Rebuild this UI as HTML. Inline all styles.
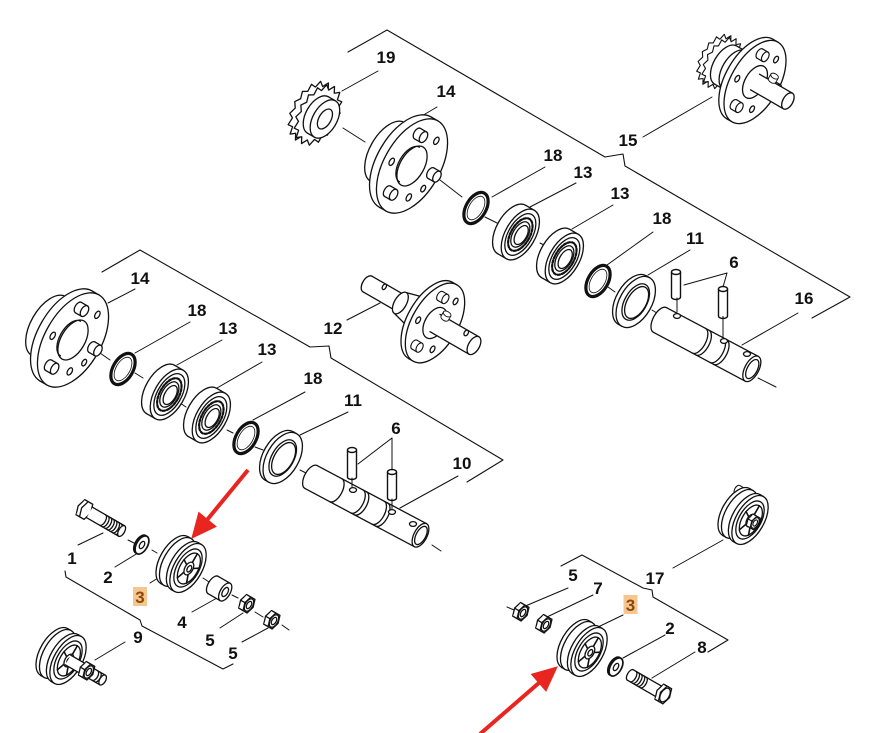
<!DOCTYPE html>
<html><head><meta charset="utf-8">
<style>
html,body{margin:0;padding:0;background:#fff;}
svg{display:block;}
text{font-family:"Liberation Sans",Arial,sans-serif;font-weight:bold;font-size:17px;fill:#111;text-anchor:middle;}
</style></head><body>
<svg width="873" height="733" viewBox="0 0 873 733" xmlns="http://www.w3.org/2000/svg">
<defs>
<polygon id="star" points="19.8,0 16.18,5.37 18.29,12.63 13.72,15.28 14,23.33 9.17,22.87 7.58,30.49 3.22,26.97 0,33 -3.22,26.97 -7.58,30.49 -9.17,22.87 -14,23.33 -13.72,15.28 -18.29,12.63 -16.18,5.37 -19.8,0 -16.18,-5.37 -18.29,-12.63 -13.72,-15.28 -14,-23.33 -9.17,-22.87 -7.58,-30.49 -3.22,-26.97 0,-33 3.22,-26.97 7.58,-30.49 9.17,-22.87 14,-23.33 13.72,-15.28 18.29,-12.63 16.18,-5.37"/>
<g id="pin">
 <ellipse rx="3.5" ry="6"/>
 <rect x="0" y="-6" width="7" height="12" stroke="none"/>
 <path d="M0,-6H7M0,6H7" fill="none"/>
 <ellipse cx="7" rx="3.5" ry="6"/>
</g>
<g id="ring">
 <ellipse rx="10" ry="17" fill="none" stroke-width="3.2"/>
 <ellipse rx="7" ry="13" fill="none" stroke-width="0.8"/>
</g>
<g id="brg">
 <ellipse cx="-5" rx="15" ry="28"/>
 <rect x="-5" y="-28" width="10" height="56" stroke="none"/>
 <path d="M-5,-28H5M-5,28H5" fill="none"/>
 <ellipse cx="5" rx="15" ry="28"/>
 <ellipse cx="5" rx="12" ry="23"/>
 <ellipse cx="5" rx="9.5" ry="18" fill="none" stroke-width="2.2" stroke-dasharray="2.5 1.8"/>
 <ellipse cx="5" rx="7.5" ry="14"/>
 <ellipse cx="6" rx="5.5" ry="10.5"/>
</g>
<g id="w11">
 <ellipse cx="-2" rx="16" ry="28"/>
 <rect x="-2" y="-28" width="4" height="56" stroke="none"/>
 <path d="M-2,-28H2M-2,28H2" fill="none"/>
 <ellipse cx="2" rx="16" ry="28"/>
 <ellipse cx="2" rx="11" ry="20"/>
 <ellipse cx="3" rx="9.5" ry="17.5" fill="none"/>
</g>
<g id="hub">
 <ellipse cx="-28" rx="18" ry="34"/>
 <rect x="-28" y="-34" width="21" height="68" stroke="none"/>
 <path d="M-28,-34H-7M-28,34H-7" fill="none"/>
 <ellipse cx="-8" rx="28" ry="52"/>
 <rect x="-8" y="-52" width="8" height="104" stroke="none"/>
 <path d="M-8,-52H0M-8,52H0" fill="none"/>
 <ellipse cx="0" rx="28" ry="52"/>
 <ellipse cx="0" rx="12" ry="22"/>
 <path d="M-3,-20 A10,19 0 0 0 -3,20" fill="none"/>
 <ellipse cx="8.5" cy="-34" rx="2.2" ry="4"/>
 <ellipse cx="12.9" cy="28.8" rx="2.2" ry="4"/>
 <ellipse cx="-19.7" cy="6.5" rx="2.2" ry="4"/>
 <ellipse cx="21" cy="14" rx="2" ry="3.6"/>
 <use href="#pin" x="-11.5" y="-30.8"/>
 <use href="#pin" x="19.9" y="-3.3"/>
 <use href="#pin" x="-8.5" y="34.1"/>
</g>
<g id="pul">
 <ellipse cx="-16" rx="14" ry="27"/>
 <rect x="-16" y="-27" width="4" height="54" stroke="none"/>
 <path d="M-16,-27H-12M-16,27H-12" fill="none"/>
 <ellipse cx="-12" rx="14" ry="27"/>
 <rect x="-12" y="-21" width="8" height="42" stroke="none"/>
 <path d="M-12,-21H-4M-12,21H-4" fill="none"/>
 <ellipse cx="-4" rx="14" ry="27"/>
 <rect x="-4" y="-27" width="4" height="54" stroke="none"/>
 <path d="M-4,-27H0M-4,27H0" fill="none"/>
 <ellipse cx="0" rx="14" ry="27"/>
 <ellipse cx="0" rx="11" ry="21"/>
 <ellipse cx="1" rx="9" ry="17" fill="none"/>
 <path d="M1,-7L1,-17M4.8,-2.2L9.6,-5.3M3.4,5.7L6.3,13.8M-1.4,5.7L-4.3,13.8M-2.8,-2.2L-7.6,-5.3" fill="none" stroke-width="1.6"/>
 <ellipse cx="1" rx="4" ry="7"/>
 <ellipse cx="1.5" rx="2" ry="3.5"/>
</g>
<g id="nut">
 <polygon points="-0.3,0 -2.65,7.8 -7.35,7.8 -9.7,0 -7.35,-7.8 -2.65,-7.8"/>
 <rect x="-7.35" y="-7.8" width="9.7" height="15.6" stroke="none"/>
 <path d="M-7.35,-7.8H2.35M-7.35,7.8H2.35M-9.7,0L-4.7,0" fill="none"/>
 <polygon points="4.7,0 2.35,7.8 -2.35,7.8 -4.7,0 -2.35,-7.8 2.35,-7.8"/>
 <ellipse rx="3.8" ry="6.8" fill="none"/>
 <ellipse rx="2.2" ry="4"/>
</g>
<g id="w2">
 <ellipse cx="-1.5" rx="5.5" ry="10" stroke-width="1.7"/>
 <ellipse rx="5.5" ry="10" stroke-width="1.7"/>
 <ellipse rx="2.2" ry="4"/>
</g>
<g id="sp">
 <ellipse cx="-8" rx="5" ry="10"/>
 <rect x="-8" y="-10" width="14" height="20" stroke="none"/>
 <path d="M-8,-10H6M-8,10H6" fill="none"/>
 <ellipse cx="6" rx="5" ry="10"/>
 <ellipse cx="6" rx="2.6" ry="5"/>
</g>
<g id="hexh">
 <polygon points="1.2,0 -1.4,8.66 -6.6,8.66 -9.2,0 -6.6,-8.66 -1.4,-8.66"/>
 <rect x="-6.6" y="-8.66" width="9.2" height="17.3" stroke="none"/>
 <path d="M-6.6,-8.66H2.6M-6.6,8.66H2.6" fill="none"/>
 <polygon points="5.2,0 2.6,8.66 -2.6,8.66 -5.2,0 -2.6,-8.66 2.6,-8.66"/>
</g>
</defs>

<g fill="#fff" stroke="#111" stroke-width="1.3" stroke-linejoin="round" stroke-linecap="round">

<!-- brackets -->
<g fill="none" stroke-width="1.1">
<polyline points="348,52 387,30 605,157 623,154 625,166 850,297 812,318"/>
<polyline points="102,272 140,250 310,347 329,346 331,358 503,460 467,482"/>
<polyline points="65,571 66,577 140,620 142,626 223,669 233,664"/>
<polyline points="561,566 582,555 643,588 652,590 653,597 728,640 708,652"/>
</g>

<!-- leader & axis lines -->
<g fill="none" stroke-width="1">
<path d="M378,71L342,91M437,107L415,120M545,167L492,197M576,183L530,207M613,205L572,229M653,232L607,265M690,250L648,275M727,273L684,285M727,273L723,287M798,313L742,345M643,137L712,97"/>
<path d="M343,128L365,142M440,180L462,197M485,217L497,223M540,243L546,246M608,287L615,292M652,310L660,315"/>
<path d="M135,289L108,303M190,322L135,353M222,340L177,365M262,362L217,388M347,320L380,303M305,392L253,420M348,412L300,435M392,438L358,464M392,438L392,473M458,476L400,508"/>
<path d="M100,353L110,360M135,373L143,378M180,403L186,407M227,430L233,433M255,447L263,450M300,470L308,474"/>
<path d="M78,545L103,533M115,567L138,553M150,583L158,578M192,612L217,598M220,628L243,613M242,642L268,628M125,642L95,660"/>
<path d="M128,540L134,543M152,550L157,553M203,578L209,582M232,595L238,598M255,612L263,617M282,625L289,630"/>
<path d="M673,568L723,540M568,588L523,607M593,595L547,617M623,615L596,628M665,635L623,658M695,652L652,678M507,607L514,610"/>
<path d="M758,378L776,387M432,545L441,551"/>
</g>

<!-- TOP GROUP -->
<g transform="translate(318,115) rotate(30)">
 <use href="#star" x="-7"/>
 <use href="#star"/>
 <ellipse cx="0" rx="12" ry="21"/>
 <rect x="0" y="-21" width="8" height="42" stroke="none"/>
 <path d="M0,-21H8M0,21H8" fill="none"/>
 <ellipse cx="8" rx="12" ry="21"/>
 <ellipse cx="8" rx="6" ry="11"/>
</g>
<use href="#hub" transform="translate(412,166) rotate(30)"/>
<use href="#ring" transform="translate(476,208) rotate(30)"/>
<use href="#brg" transform="translate(516,232) rotate(30)"/>
<use href="#brg" transform="translate(560,256) rotate(30)"/>
<use href="#ring" transform="translate(598,281) rotate(30)"/>
<use href="#w11" transform="translate(634,301) rotate(30)"/>
<g transform="translate(660,320) rotate(28)">
 <ellipse cx="0" rx="7" ry="14"/>
 <rect x="0" y="-14" width="104" height="28" stroke="none"/>
 <path d="M0,-14H104M0,14H104" fill="none"/>
 <path d="M44,-14A7,14 0 0 1 44,14M48,-14A7,14 0 0 1 48,14M64,-14A7,14 0 0 1 64,14M68,-14A7,14 0 0 1 68,14" fill="none"/>
 <ellipse cx="104" rx="7" ry="14"/>
 <ellipse cx="104.5" rx="5" ry="10.5" fill="none"/>
</g>
<ellipse cx="677" cy="316" rx="3.5" ry="2.4"/>
<ellipse cx="724" cy="341" rx="3.5" ry="2.4"/>
<ellipse cx="747" cy="354" rx="3.5" ry="2.4"/>
<path d="M677,298V312M723,316V337" fill="none" stroke-width="1"/>
<g>
 <rect x="671.5" y="272" width="9" height="25" stroke="none"/>
 <path d="M671.5,272V297A4.5,2.5 0 0 0 680.5,297V272" fill="none" stroke-width="1.4"/>
 <ellipse cx="676" cy="272" rx="4.5" ry="2.5" stroke-width="1.4"/>
 <rect x="718.5" y="289" width="9" height="27" stroke="none"/>
 <path d="M718.5,289V316A4.5,2.5 0 0 0 727.5,316V289" fill="none" stroke-width="1.4"/>
 <ellipse cx="723" cy="289" rx="4.5" ry="2.5" stroke-width="1.4"/>
</g>
<!-- part 15 -->
<g transform="translate(755,82) rotate(30)">
 <use href="#star" transform="translate(-44,0) scale(0.85)"/>
 <use href="#star" transform="translate(-38,0) scale(0.85)"/>
 <ellipse cx="-34" rx="12" ry="22"/>
 <rect x="-34" y="-22" width="28" height="44" stroke="none"/>
 <path d="M-34,-22H-6M-34,22H-6M-24,-22A12,22 0 0 0 -24,22" fill="none"/>
 <ellipse cx="-6" rx="24" ry="46"/>
 <rect x="-6" y="-46" width="6" height="92" stroke="none"/>
 <path d="M-6,-46H0M-6,46H0" fill="none"/>
 <ellipse cx="0" rx="24" ry="46"/>
 <ellipse cx="7" cy="-30" rx="2" ry="3.6"/>
 <ellipse cx="11" cy="25" rx="2" ry="3.6"/>
 <ellipse cx="-17" cy="6" rx="2" ry="3.6"/>
 <use href="#pin" transform="translate(-10,-27) scale(0.9)"/>
 <use href="#pin" transform="translate(17,-5) scale(0.9)"/>
 <use href="#pin" transform="translate(-7,30) scale(0.9)"/>
 <ellipse cx="0" rx="10" ry="18"/>
 <rect x="0" y="-9" width="38" height="18" stroke="none"/>
 <path d="M0,-9H38M0,9H38" fill="none"/>
 <ellipse cx="38" rx="5" ry="9"/>
 <use href="#pin" transform="translate(14,-10) rotate(-90) scale(0.7)"/>
</g>

<!-- MIDDLE GROUP -->
<use href="#hub" transform="translate(73,340) rotate(30)"/>
<use href="#ring" transform="translate(123,369) rotate(30)"/>
<use href="#brg" transform="translate(165,392) rotate(30)"/>
<use href="#brg" transform="translate(207,415) rotate(30)"/>
<use href="#ring" transform="translate(246,438) rotate(30)"/>
<use href="#w11" transform="translate(281,457) rotate(30)"/>
<g transform="translate(311,477) rotate(28)">
 <ellipse cx="0" rx="6.5" ry="13"/>
 <rect x="0" y="-13" width="124" height="26" stroke="none"/>
 <path d="M0,-13H124M0,13H124" fill="none"/>
 <path d="M28,-13A6.5,13 0 0 1 28,13M52,-13A6.5,13 0 0 1 52,13M56,-13A6.5,13 0 0 1 56,13M76,-13A6.5,13 0 0 1 76,13M80,-13A6.5,13 0 0 1 80,13" fill="none"/>
 <ellipse cx="124" rx="6.5" ry="13"/>
 <ellipse cx="124.5" rx="4.8" ry="10" fill="none"/>
</g>
<ellipse cx="353" cy="490" rx="3.5" ry="2.4"/>
<ellipse cx="392" cy="512" rx="3.5" ry="2.4"/>
<ellipse cx="413" cy="524" rx="3.5" ry="2.4"/>
<path d="M352,478V487M392,499V509" fill="none" stroke-width="1"/>
<g>
 <rect x="347.5" y="450" width="9" height="27" stroke="none"/>
 <path d="M347.5,450V477A4.5,2.5 0 0 0 356.5,477V450" fill="none" stroke-width="1.4"/>
 <ellipse cx="352" cy="450" rx="4.5" ry="2.5" stroke-width="1.4"/>
 <rect x="387.5" y="472" width="9" height="26" stroke="none"/>
 <path d="M387.5,472V498A4.5,2.5 0 0 0 396.5,498V472" fill="none" stroke-width="1.4"/>
 <ellipse cx="392" cy="472" rx="4.5" ry="2.5" stroke-width="1.4"/>
</g>
<!-- part 12 -->
<g transform="translate(435,323) rotate(30)">
 <ellipse cx="-78" rx="5" ry="9"/>
 <rect x="-78" y="-9" width="40" height="18" stroke="none"/>
 <path d="M-78,-9H-38M-78,9H-38" fill="none"/>
 <ellipse cx="-62" cy="-6" rx="1.8" ry="3"/>
 <polygon points="-40,-12 -10,-20 -10,20 -40,12"/>
 <ellipse cx="-40" rx="6" ry="12"/>
 <ellipse cx="-5" rx="23" ry="44"/>
 <rect x="-5" y="-44" width="5" height="88" stroke="none"/>
 <path d="M-5,-44H0M-5,44H0" fill="none"/>
 <ellipse cx="0" rx="23" ry="44"/>
 <ellipse cx="7" cy="-29" rx="2" ry="3.6"/>
 <ellipse cx="11" cy="24" rx="2" ry="3.6"/>
 <ellipse cx="-16" cy="6" rx="2" ry="3.6"/>
 <use href="#pin" transform="translate(-9,-26) scale(0.85)"/>
 <use href="#pin" transform="translate(-7,29) scale(0.85)"/>
 <ellipse cx="0" rx="10" ry="17"/>
 <rect x="0" y="-10" width="45" height="20" stroke="none"/>
 <path d="M0,-10H45M0,10H45" fill="none"/>
 <ellipse cx="45" rx="5.5" ry="10"/>
 <ellipse cx="32" cy="-7" rx="2" ry="3"/>
 <use href="#pin" transform="translate(6,-9) rotate(-90) scale(0.7)"/>
</g>

<!-- BOTTOM LEFT GROUP -->
<g transform="translate(87,511) rotate(30)">
 <use href="#hexh" x="-1"/>
 <rect x="3" y="-6" width="37" height="12" stroke="none"/>
 <path d="M3,-6H40M3,6H40" fill="none"/>
 <path d="M18,-6A3,6 0 0 1 18,6M21,-6A3,6 0 0 1 21,6M24,-6A3,6 0 0 1 24,6M27,-6A3,6 0 0 1 27,6M30,-6A3,6 0 0 1 30,6M33,-6A3,6 0 0 1 33,6M36,-6A3,6 0 0 1 36,6" fill="none"/>
 <ellipse cx="40" rx="3" ry="6"/>
</g>
<use href="#w2" transform="translate(142,545) rotate(30)"/>
<use href="#pul" transform="translate(188,568) rotate(30)"/>
<use href="#sp" transform="translate(220,589) rotate(30)"/>
<use href="#nut" transform="translate(249,605) rotate(30)"/>
<use href="#nut" transform="translate(274,621) rotate(30)"/>
<!-- part 9 -->
<g transform="translate(68,660) rotate(30)">
 <use href="#pul"/>
 <rect x="0" y="-5.5" width="40" height="11" stroke="none"/>
 <path d="M0,-5.5H40M0,5.5H40" fill="none"/>
 <ellipse cx="40" rx="3" ry="5.5"/>
 <use href="#nut" transform="translate(24,0)"/>
 <path d="M31,-5.5A3,5.5 0 0 1 31,5.5M34,-5.5A3,5.5 0 0 1 34,5.5" fill="none"/>
</g>

<!-- BOTTOM RIGHT GROUP -->
<g transform="translate(750,520) rotate(30)">
 <use href="#pin" transform="translate(-26,-20) scale(0.8)"/>
 <use href="#pul"/>
 <use href="#nut" transform="translate(6,0) scale(0.85)"/>
</g>
<use href="#nut" transform="translate(523,613) rotate(30)"/>
<use href="#nut" transform="translate(546,625) rotate(30)"/>
<use href="#pul" transform="translate(589,652) rotate(30)"/>
<use href="#w2" transform="translate(616,667) rotate(30)"/>
<g transform="translate(665,695) rotate(30)">
 <ellipse cx="-40" rx="3" ry="6"/>
 <rect x="-40" y="-6" width="36" height="12" stroke="none"/>
 <path d="M-40,-6H-4M-40,6H-4" fill="none"/>
 <path d="M-37,-6A3,6 0 0 1 -37,6M-34,-6A3,6 0 0 1 -34,6M-31,-6A3,6 0 0 1 -31,6M-28,-6A3,6 0 0 1 -28,6M-25,-6A3,6 0 0 1 -25,6" fill="none"/>
 <use href="#hexh" x="0"/>
 <ellipse rx="4.3" ry="7.5" fill="none"/>
</g>

<!-- red arrows -->
<g stroke="#e8251f" fill="#e8251f" stroke-width="4" stroke-linecap="butt">
 <line x1="248" y1="470" x2="207" y2="520"/>
 <polygon points="192,538 216,526.5 198.8,512.5" stroke-width="1" stroke-linejoin="miter"/>
 <line x1="480" y1="734" x2="540" y2="682"/>
 <polygon points="557,667 546,691 531.5,674.3" stroke-width="1" stroke-linejoin="miter"/>
</g>
</g>

<!-- label highlight boxes -->
<rect x="133" y="587" width="14" height="19" fill="#f7c690"/>
<rect x="623.5" y="595" width="14" height="19" fill="#f7c690"/>

<!-- labels -->
<g>
<text x="386" y="63">19</text>
<text x="446" y="97">14</text>
<text x="553" y="161">18</text>
<text x="583" y="178">13</text>
<text x="620" y="199">13</text>
<text x="662" y="224">18</text>
<text x="695" y="244">11</text>
<text x="734" y="268">6</text>
<text x="804" y="304">16</text>
<text x="628" y="146">15</text>

<text x="140" y="284">14</text>
<text x="197" y="316">18</text>
<text x="228" y="334">13</text>
<text x="267" y="355">13</text>
<text x="333" y="334">12</text>
<text x="313" y="384">18</text>
<text x="353" y="406">11</text>
<text x="396" y="434">6</text>
<text x="462" y="469">10</text>

<text x="72" y="564">1</text>
<text x="108" y="583">2</text>
<text x="140" y="603" style="fill:#8a4a0c">3</text>
<text x="182" y="628">4</text>
<text x="210" y="646">5</text>
<text x="233" y="659">5</text>
<text x="138" y="643">9</text>

<text x="655" y="584">17</text>
<text x="573" y="581">5</text>
<text x="598" y="594">7</text>
<text x="630.5" y="611" style="fill:#8a4a0c">3</text>
<text x="670" y="634">2</text>
<text x="702" y="653">8</text>
</g>
</svg>
</body></html>
